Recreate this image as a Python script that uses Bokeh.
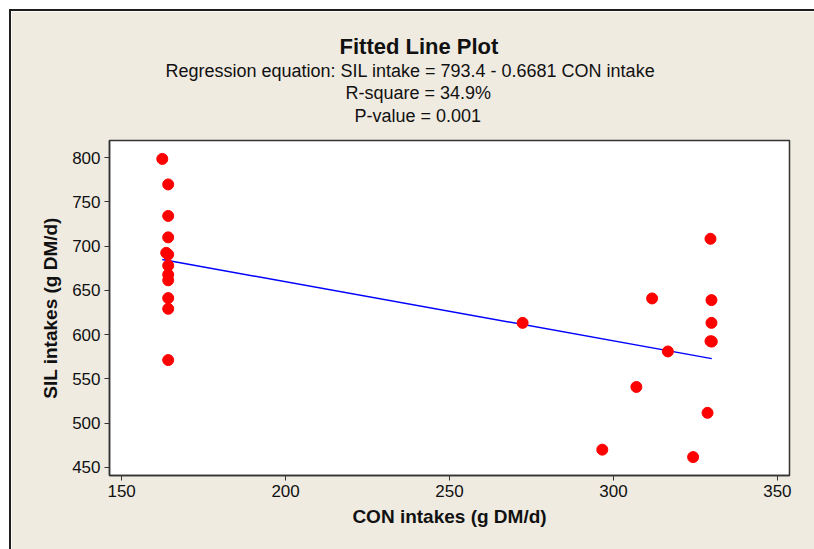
from bokeh.plotting import figure
from bokeh.models import Title, Range1d, FixedTicker
from bokeh.embed import file_html
from bokeh.resources import INLINE

# Observed intakes (g DM/d)
con_intake = [162.4, 164.2, 164.2, 164.2, 163.6, 164.2, 164.2, 164.2, 164.2, 164.2, 164.2, 164.2,
              272.3, 311.8, 316.6, 307.0, 296.6,
              329.6, 329.9, 329.9, 329.6, 330.0, 328.7, 324.3]
sil_intake = [798.5, 769.7, 734.1, 709.9, 692.4, 690.5, 678.0, 667.8, 661.4, 641.3, 629.2, 571.3,
              613.3, 640.9, 581.0, 540.9, 470.1,
              708.3, 639.0, 613.3, 592.6, 592.2, 511.7, 461.7]

# Fitted regression
intercept = 793.4
slope = -0.6681
r_square = 34.9
p_value = 0.001

x_ticks = [150, 200, 250, 300, 350]
y_ticks = [450, 500, 550, 600, 650, 700, 750, 800]

FONT = "Liberation Sans"
BG = "#EFEBE1"

# The outline sits just outside the plot box; only its left and top edges fall in view
p = figure(width=803, height=538, output_backend="svg", toolbar_location=None, title=None,
           x_range=Range1d(146.3, 353.7), y_range=Range1d(440.9, 819.3),
           min_border_left=98, min_border_right=25, min_border_top=129, min_border_bottom=74,
           margin=(11, 0, 0, 11),
           styles={"outline": "2px solid #1e1e1e"})
p.border_fill_color = BG
p.background_fill_color = "white"
p.outline_line_color = "#333333"
p.outline_line_width = 1.5
p.grid.visible = False

for ax in (p.xaxis[0], p.yaxis[0]):
    ax.axis_line_color = "#333333"
    ax.axis_line_width = 1.5
    ax.major_tick_line_color = "#333333"
    ax.major_tick_out = 5
    ax.major_tick_in = 0
    ax.minor_tick_line_color = None
    ax.major_label_text_font = FONT
    ax.major_label_text_font_size = "17px"
    ax.major_label_text_color = "#111111"
    ax.axis_label_text_font = FONT
    ax.axis_label_text_font_size = "19px"
    ax.axis_label_text_font_style = "bold"
    ax.axis_label_text_color = "#111111"

p.xaxis.ticker = FixedTicker(ticks=x_ticks)
p.yaxis.ticker = FixedTicker(ticks=y_ticks)
p.xaxis.axis_label = "CON intakes (g DM/d)"
p.yaxis.axis_label = "SIL intakes (g DM/d)"
p.xaxis.major_label_standoff = 4
p.yaxis.major_label_standoff = 4
p.xaxis.axis_label_standoff = 6
p.yaxis.axis_label_standoff = 8

# Fitted line over the observed CON range
x0, x1 = min(con_intake), max(con_intake)
p.line([x0, x1], [intercept + slope * x0, intercept + slope * x1],
       line_color="#0000FF", line_width=1.5)

p.scatter(con_intake, sil_intake, size=11, fill_color="#FF0000", line_color="#FF0000")

# Heading lines, added from the frame outward; offset is measured from the frame's left edge
heading = [
    (" ", "8px", "normal", 3, 0),
    (f"P-value = {p_value:.3f}", "18px", "normal", 2, 245),
    (f"R-square = {r_square}%", "18px", "normal", 0, 236),
    (f"Regression equation: SIL intake =  {intercept} - {abs(slope)} CON intake", "18px", "normal", 0, 56),
    ("Fitted Line Plot", "22px", "bold", 0, 230),
]
for txt, size, style, standoff, offset in heading:
    p.add_layout(Title(text=txt, align="left", offset=offset, text_font=FONT,
                       text_font_size=size, text_font_style=style, text_color="#111111",
                       standoff=standoff), "above")

open("out.html", "w").write(file_html(p, INLINE))
